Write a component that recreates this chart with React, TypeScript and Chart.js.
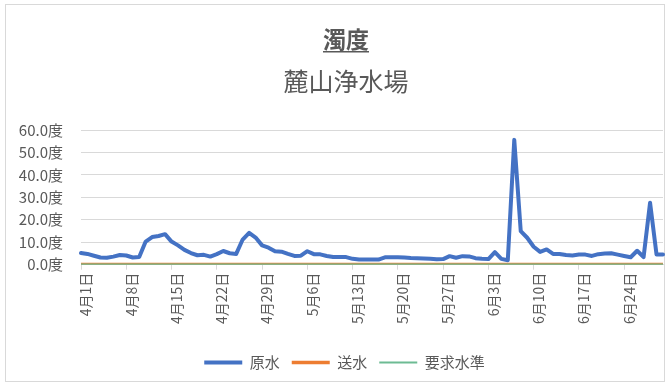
import { useEffect, useRef } from "react";
import { Chart, registerables } from "chart.js";

Chart.register(...registerables);

const TITLE = "濁度";
const SUBTITLE = "麓山浄水場";
const SERIES_NAMES = ["原水", "送水", "要求水準"];

// Daily categories, 4月1日 – 6月30日
const MONTHS = [4, 5, 6];
const DAYS_IN_MONTH = [30, 31, 30];
const DATES: string[] = [];
MONTHS.forEach((m, k) => {
  for (let d = 1; d <= DAYS_IN_MONTH[k]; d++) DATES.push(`${m}月${d}日`);
});

// 原水 (raw water turbidity, 度)
const RAW_WATER = [
  5.2, 4.8, 4.0, 3.2, 3.1, 3.6, 4.3, 4.1, 3.2, 3.4,
  10.3, 12.3, 12.8, 13.6, 10.3, 8.6, 6.6, 5.2, 4.2, 4.4,
  3.6, 4.7, 6.1, 5.1, 4.8, 11.2, 14.2, 12.1, 8.6, 7.6,
  6.0, 5.8, 4.8, 3.9, 4.0, 6.0, 4.7, 4.6, 3.9, 3.4,
  3.4, 3.4, 2.6, 2.3, 2.3, 2.3, 2.3, 3.3, 3.3, 3.3,
  3.2, 3.0, 2.9, 2.8, 2.6, 2.4, 2.5, 3.8, 3.1, 3.8,
  3.7, 2.9, 2.6, 2.5, 5.6, 2.6, 2.0, 55.6, 15.0, 12.0,
  8.0, 5.7, 6.8, 4.8, 4.8, 4.3, 4.1, 4.5, 4.5, 3.9,
  4.7, 5.0, 5.1, 4.5, 3.9, 3.3, 6.2, 3.4, 27.6, 4.5,
  4.5,
];

// 送水 (treated water turbidity, 度)
const TREATED_WATER = [
  0.1, 0.1, 0.1, 0.1, 0.1, 0.1, 0.1, 0.1, 0.1, 0.1,
  0.1, 0.1, 0.1, 0.1, 0.1, 0.1, 0.1, 0.1, 0.1, 0.1,
  0.1, 0.1, 0.1, 0.1, 0.1, 0.1, 0.1, 0.1, 0.1, 0.1,
  0.1, 0.1, 0.1, 0.1, 0.1, 0.1, 0.1, 0.1, 0.1, 0.1,
  0.1, 0.1, 0.1, 0.1, 0.1, 0.1, 0.1, 0.1, 0.1, 0.1,
  0.1, 0.1, 0.1, 0.1, 0.1, 0.1, 0.1, 0.1, 0.1, 0.1,
  0.1, 0.1, 0.1, 0.1, 0.1, 0.1, 0.1, 0.1, 0.1, 0.1,
  0.1, 0.1, 0.1, 0.1, 0.1, 0.1, 0.1, 0.1, 0.1, 0.1,
  0.1, 0.1, 0.1, 0.1, 0.1, 0.1, 0.1, 0.1, 0.1, 0.1,
  0.1,
];

// 要求水準 (required level, 度)
const REQUIRED_LEVEL = [
  0.1, 0.1, 0.1, 0.1, 0.1, 0.1, 0.1, 0.1, 0.1, 0.1,
  0.1, 0.1, 0.1, 0.1, 0.1, 0.1, 0.1, 0.1, 0.1, 0.1,
  0.1, 0.1, 0.1, 0.1, 0.1, 0.1, 0.1, 0.1, 0.1, 0.1,
  0.1, 0.1, 0.1, 0.1, 0.1, 0.1, 0.1, 0.1, 0.1, 0.1,
  0.1, 0.1, 0.1, 0.1, 0.1, 0.1, 0.1, 0.1, 0.1, 0.1,
  0.1, 0.1, 0.1, 0.1, 0.1, 0.1, 0.1, 0.1, 0.1, 0.1,
  0.1, 0.1, 0.1, 0.1, 0.1, 0.1, 0.1, 0.1, 0.1, 0.1,
  0.1, 0.1, 0.1, 0.1, 0.1, 0.1, 0.1, 0.1, 0.1, 0.1,
  0.1, 0.1, 0.1, 0.1, 0.1, 0.1, 0.1, 0.1, 0.1, 0.1,
  0.1,
];

const Y_MIN = 0;
const Y_MAX = 60;
const Y_STEP = 10;
const LABEL_EVERY = 7;

const FONT = '"Noto Sans CJK JP", "Noto Sans", sans-serif';
const TEXT_COLOR = "#595959";
const GRID_COLOR = "#D9D9D9";

// Underlined main title with the plant name beneath it
const titleBlock = {
  id: "titleBlock",
  afterDraw(chart: any) {
    const ctx = chart.ctx as CanvasRenderingContext2D;
    const cx = 346;
    ctx.save();
    ctx.fillStyle = TEXT_COLOR;
    ctx.textAlign = "center";
    ctx.textBaseline = "middle";
    ctx.font = `bold 23px ${FONT}`;
    ctx.fillText(TITLE, cx, 39);
    const w = ctx.measureText(TITLE).width;
    ctx.fillRect(cx - w / 2, 51, w, 1.5);
    ctx.font = `25px ${FONT}`;
    ctx.fillText(SUBTITLE, cx, 81);
    ctx.restore();
  },
};

// Centre the legend row under the plot area rather than the whole canvas
const legendShift = {
  id: "legendShift",
  afterLayout(chart: any) {
    if (chart.legend) chart.legend.left += 26;
  },
};

export default function App() {
  const canvasRef = useRef<HTMLCanvasElement | null>(null);

  useEffect(() => {
    document.body.style.margin = "0";
    const canvas = canvasRef.current;
    if (!canvas) return;
    const chart = new Chart(canvas, {
      type: "line",
      data: {
        labels: DATES,
        datasets: [
          {
            label: SERIES_NAMES[0],
            data: RAW_WATER,
            borderColor: "#4472C4",
            backgroundColor: "#4472C4",
            borderWidth: 4,
            pointRadius: 0,
            tension: 0,
            borderJoinStyle: "round",
            borderCapStyle: "round",
            order: 2,
          },
          {
            label: SERIES_NAMES[1],
            data: TREATED_WATER,
            borderColor: "#ED7D31",
            backgroundColor: "#ED7D31",
            borderWidth: 3.5,
            pointRadius: 0,
            tension: 0,
            order: 1,
          },
          {
            label: SERIES_NAMES[2],
            data: REQUIRED_LEVEL,
            borderColor: "#6DBB93",
            backgroundColor: "#6DBB93",
            borderWidth: 2,
            pointRadius: 0,
            tension: 0,
            order: 0,
          },
        ],
      },
      options: {
        animation: false,
        responsive: false,
        maintainAspectRatio: false,
        layout: { padding: { top: 130, left: 0, right: 7, bottom: 7 } },
        plugins: {
          title: { display: false },
          tooltip: { enabled: false },
          legend: {
            display: true,
            position: "bottom",
            labels: {
              usePointStyle: true,
              pointStyle: "line",
              pointStyleWidth: 38,
              boxHeight: 15,
              padding: 12,
              color: TEXT_COLOR,
              font: { family: FONT, size: 15 },
              sort: (a: any, b: any) => a.datasetIndex - b.datasetIndex,
            },
          },
        },
        scales: {
          x: {
            type: "category",
            offset: false,
            afterFit: (scale: any) => {
              scale.height += 16;
              scale.paddingLeft = 0;
              scale.paddingRight = 0;
            },
            grid: {
              drawOnChartArea: false,
              drawTicks: true,
              tickLength: 5,
              tickColor: (c: any) => (c.index % LABEL_EVERY === 0 ? GRID_COLOR : "rgba(0,0,0,0)"),
            },
            border: { display: true, color: GRID_COLOR },
            ticks: {
              autoSkip: false,
              minRotation: 90,
              maxRotation: 90,
              padding: 3,
              labelOffset: 5,
              color: TEXT_COLOR,
              font: { family: FONT, size: 14 },
              callback: (_v: any, i: number) => (i % LABEL_EVERY === 0 ? DATES[i] : ""),
            },
          },
          y: {
            min: Y_MIN,
            max: Y_MAX,
            afterFit: (scale: any) => {
              scale.width = 81;
            },
            grid: { color: GRID_COLOR, drawTicks: false },
            border: { display: false },
            ticks: {
              stepSize: Y_STEP,
              padding: 18,
              color: TEXT_COLOR,
              font: { family: FONT, size: 15 },
              callback: (v: any) => `${Number(v).toFixed(1)}度`,
            },
          },
        },
      },
      plugins: [titleBlock, legendShift],
    });
    return () => chart.destroy();
  }, []);

  return (
    <div style={{ position: "relative", width: 670, height: 387, background: "#fff" }}>
      <div
        style={{
          position: "absolute",
          left: 5,
          top: 4,
          width: 660,
          height: 378,
          border: "1px solid #D9D9D9",
          boxSizing: "border-box",
        }}
      />
      <canvas
        ref={canvasRef}
        width={670}
        height={387}
        style={{ position: "absolute", left: 0, top: 0, width: 670, height: 387 }}
      />
    </div>
  );
}
